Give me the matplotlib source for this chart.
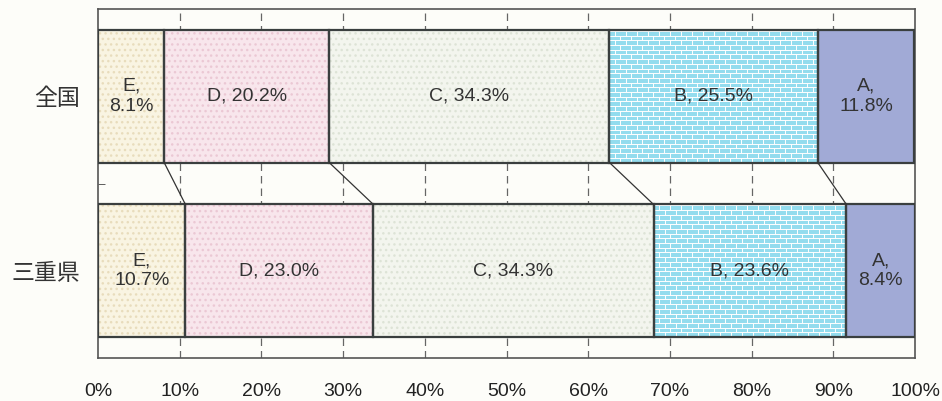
import matplotlib
matplotlib.use("Agg")
import matplotlib.pyplot as plt
from matplotlib.collections import LineCollection
import numpy as np

plt.rcParams['font.family'] = ['Noto Sans CJK JP', 'DejaVu Sans']

regions = ["全国", "三重県"]
grades = ["E", "D", "C", "B", "A"]
values = {
    "全国":   [8.1, 20.2, 34.3, 25.5, 11.8],
    "三重県": [10.7, 23.0, 34.3, 23.6, 8.4],
}
xticks = [0, 10, 20, 30, 40, 50, 60, 70, 80, 90, 100]
xticklabels = [f"{t}%" for t in xticks]

fills = {"E": "#f9f4e2", "D": "#f8e6ec", "C": "#f3f5ee", "B": "#93dcee", "A": "#a1aad6"}
dots = {"E": "#e8dcbc", "D": "#ebc8d4", "C": "#dde3d6", "B": None, "A": None}

bg = "#fdfdf9"
fig = plt.figure(figsize=(9.42, 4.01), dpi=100, facecolor=bg)
ax = fig.add_axes([98/942, 1-358/401, (915-98)/942, (358-9)/401], facecolor=bg)

ypos = {"全国": 1, "三重県": 0}
h = 0.76
ax.set_xlim(0, 100)
ax.set_ylim(-0.5, 1.5)

plt.rcParams['hatch.linewidth'] = 1.0
bounds = {}
for r in regions:
    y = ypos[r]
    left = 0.0
    bl = []
    for g, v in zip(grades, values[r]):
        if dots[g]:
            ax.barh(y, v, left=left, height=h, color=fills[g], edgecolor=dots[g],
                    hatch="...", linewidth=0, zorder=2)
        else:
            ax.barh(y, v, left=left, height=h, color=fills[g], linewidth=0, zorder=2)
        if g == "B":
            px_x = 100 / (915 - 98)
            px_y = 2.0 / (358 - 9)
            dy = 4.7 * px_y
            dx = 11 * px_x
            segs = []
            ys = np.arange(y - h/2, y + h/2 + 1e-9, dy)
            for k, yy in enumerate(ys):
                segs.append([(left, yy), (left + v, yy)])
                if yy + dy <= y + h/2 + 1e-9:
                    off = 0 if k % 2 == 0 else dx / 2
                    for xx in np.arange(left + off, left + v, dx):
                        segs.append([(xx, yy), (xx, min(yy + dy, y + h/2))])
            ax.add_collection(LineCollection(segs, colors="white", linewidths=0.7, zorder=3))
        ax.barh(y, v, left=left, height=h, fill=False, edgecolor="#3a3f3f",
                linewidth=1.6, zorder=4)
        cx = left + v / 2
        if v < 15:
            lbl = f"{g},\n{v:.1f}%"
        else:
            lbl = f"{g}, {v:.1f}%"
        ax.text(cx, y, lbl, ha="center", va="center", fontsize=14,
                color="#333333", linespacing=1.2, zorder=5, family="Liberation Sans")
        left += v
        bl.append(left)
    bounds[r] = bl

for bt, bb in zip(bounds["全国"][:-1], bounds["三重県"][:-1]):
    ax.plot([bt, bb], [ypos["全国"] - h/2, ypos["三重県"] + h/2], color="#333333",
            linewidth=0.9, zorder=4)

for t in xticks[1:-1]:
    ax.axvline(t, color="#666666", linewidth=0.9, linestyle=(0, (6, 4)), zorder=1)

ax.set_xticks(xticks)
ax.set_xticklabels(xticklabels, fontsize=14, color="#222222", family="Liberation Sans")
ax.tick_params(axis="x", length=0, pad=18)
ax.set_yticks([ypos[r] for r in regions])
ax.set_yticklabels(regions, fontsize=16.5, color="#333333")
ax.tick_params(axis="y", length=0, pad=13)
ax.set_yticks([0.5], minor=True)
ax.tick_params(axis="y", which="minor", length=5, direction="in", color="#444444")
for s in ax.spines.values():
    s.set_color("#555555")
    s.set_linewidth(1.2)

fig.savefig("out.png", dpi=100, facecolor=bg)
